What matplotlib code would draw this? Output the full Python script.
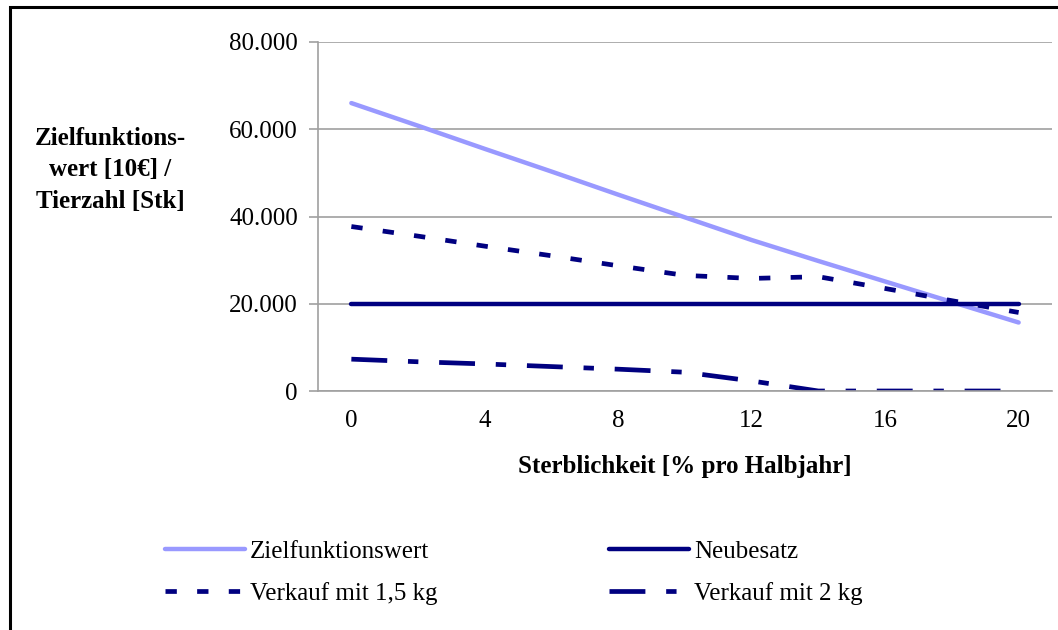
import numpy as np
import matplotlib
matplotlib.use("Agg")
import matplotlib.pyplot as plt
from matplotlib.patches import Rectangle

# Sterblichkeit [% pro Halbjahr]
sterblichkeit = [0, 2, 4, 6, 8, 10, 12, 14, 16, 18, 20]
x_tick_vals = [0, 4, 8, 12, 16, 20]

zielfunktionswert = [66000, 60800, 55500, 50300, 45000, 39800, 34600, 29800, 25100, 20400, 15700]
neubesatz = [20000, 20000, 20000, 20000, 20000, 20000, 20000, 20000, 20000, 20000, 20000]
verkauf_15kg = [37700, 35500, 33200, 31000, 28700, 26500, 25800, 26200, 23500, 20700, 18000]
verkauf_2kg = [7300, 6700, 6200, 5600, 5000, 4300, 2300, 0, 0, 0, 0]

y_ticks = [0, 20000, 40000, 60000, 80000]

plt.rcParams.update({
    "font.family": ["Liberation Serif", "DejaVu Serif"],
    "font.size": 18,
})

NAVY = "#000080"
LIGHT = "#9999FF"
GRID = "#A0A0A0"

fig = plt.figure(figsize=(10.58, 6.3), dpi=100)
ax = fig.add_axes([318 / 1058, 1 - 391 / 630, (1052 - 318) / 1058, (391 - 42) / 630])

l_ziel, = ax.plot(sterblichkeit, zielfunktionswert, color=LIGHT, linewidth=3.2,
                  solid_capstyle="round", label="Zielfunktionswert")
l_neu, = ax.plot(sterblichkeit, neubesatz, color=NAVY, linewidth=3.2,
                 solid_capstyle="round", label="Neubesatz")
l_15, = ax.plot(sterblichkeit, verkauf_15kg, color=NAVY, linewidth=3.4,
                linestyle=(0, (2.4, 4.3)), dash_capstyle="butt", label="Verkauf mit 1,5 kg")
l_2, = ax.plot(sterblichkeit, verkauf_2kg, color=NAVY, linewidth=3.4,
               linestyle=(0, (7.6, 4.4, 2.2, 4.4)), dash_capstyle="butt", label="Verkauf mit 2 kg")

ax.set_xlim(-1, 21)
ax.set_ylim(0, 80000)
ax.set_xticks(x_tick_vals)
ax.set_xticklabels([str(v) for v in x_tick_vals])
ax.set_yticks(y_ticks)
ax.set_yticklabels([f"{v:,}".replace(",", ".") for v in y_ticks])

ax.yaxis.grid(True, color=GRID, linewidth=1.2)
ax.set_axisbelow(True)
for side in ["top", "right"]:
    ax.spines[side].set_visible(False)
for side in ["left", "bottom"]:
    ax.spines[side].set_color(GRID)
    ax.spines[side].set_linewidth(1.2)

ax.tick_params(axis="y", length=6.5, width=1.2, color=GRID, pad=8)
ax.tick_params(axis="x", length=0, pad=14)

ax.set_xlabel("Sterblichkeit [% pro Halbjahr]", fontweight="bold", labelpad=16)

fig.text(110 / 1058, 1 - 170 / 630, "Zielfunktions-\nwert [10€] /\nTierzahl [Stk]",
         ha="center", va="center", fontweight="bold", multialignment="center",
         linespacing=1.45)

# legend filled column-wise, so order gives rows: Ziel/Neu, 1,5 kg/2 kg
handles = [l_ziel, l_15, l_neu, l_2]
fig.legend(handles, [h.get_label() for h in handles],
           loc="upper left", bbox_to_anchor=(152 / 1058, 1 - 528 / 630), ncol=2,
           frameon=False, borderpad=0, handlelength=3.2, handletextpad=0.2,
           columnspacing=6.88, labelspacing=0.75)

fig.patches.append(Rectangle((9.5 / 1058, -0.1), 2.0, 1 - 7.5 / 630 + 0.1,
                             transform=fig.transFigure, fill=False,
                             edgecolor="black", linewidth=2.2, clip_on=False))

fig.savefig("out.png", dpi=100)
plt.close(fig)
